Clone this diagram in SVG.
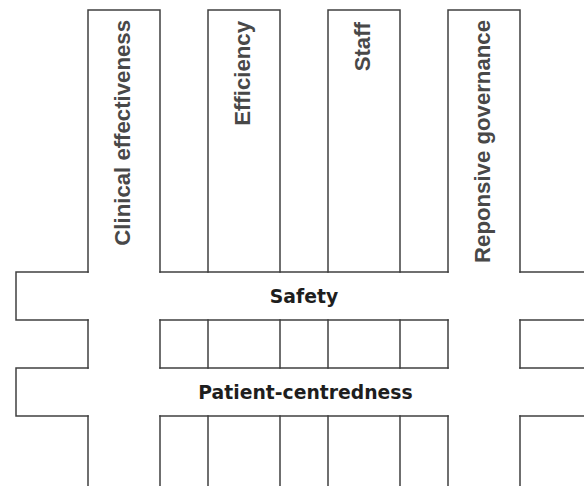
<svg xmlns="http://www.w3.org/2000/svg" width="584" height="486" viewBox="0 0 584 486">
<style>
.ln{fill:none;stroke:#404040;stroke-width:1.5;stroke-linecap:square}
.vt{font-family:"Liberation Sans",Arial,sans-serif;font-weight:bold;font-size:22.2px;fill:#484848;text-anchor:end}
.ht{font-family:"DejaVu Sans",Verdana,sans-serif;font-weight:bold;font-size:18.8px;fill:#1e1e1e;text-anchor:middle}
</style>
<rect width="584" height="486" fill="#fff"/>
<g id="clinical-effectiveness">
<path class="ln" d="M88 272V10H160V272M88 320V368M160 320V368M88 416V486M160 416V486"/>
<text class="vt" transform="translate(130,20) rotate(-90)">Clinical effectiveness</text>
</g>
<g id="efficiency">
<path class="ln" d="M208 272V10H280V272M208 320V368M280 320V368M208 416V486M280 416V486"/>
<text class="vt" transform="translate(250,21) rotate(-90)">Efficiency</text>
</g>
<g id="staff">
<path class="ln" d="M328 272V10H400V272M328 320V368M400 320V368M328 416V486M400 416V486"/>
<text class="vt" transform="translate(370,22) rotate(-90)">Staff</text>
</g>
<g id="reponsive-governance">
<path class="ln" d="M448 272V10H520V272M448 320V368M520 320V368M448 416V486M520 416V486"/>
<text class="vt" transform="translate(490,20) rotate(-90)">Reponsive governance</text>
</g>
<g id="safety">
<path class="ln" d="M88 272H16V320H88M160 272H448M160 320H448M520 272H584M520 320H584"/>
<text class="ht" x="304" y="303">Safety</text>
</g>
<g id="patient-centredness">
<path class="ln" d="M88 368H16V416H88M160 368H448M160 416H448M520 368H584M520 416H584"/>
<text class="ht" x="305.5" y="399">Patient-centredness</text>
</g>
</svg>
